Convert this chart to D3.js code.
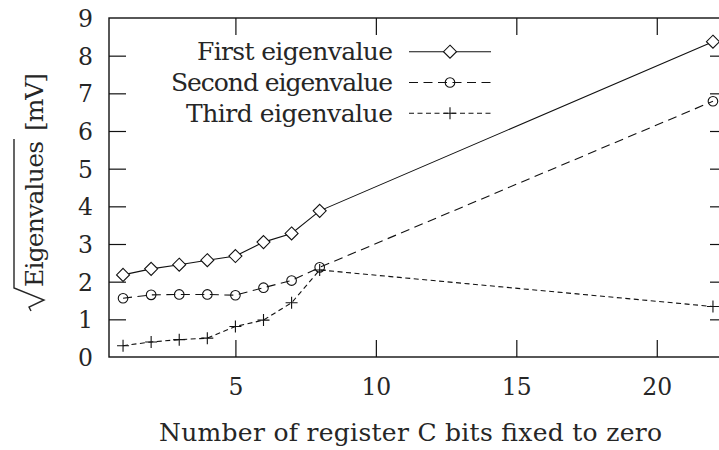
<!DOCTYPE html>
<html>
<head>
<meta charset="utf-8">
<script src="https://cdn.jsdelivr.net/npm/d3@7"></script>
<style>
  html, body { margin: 0; padding: 0; background: #fff; }
  svg { display: block; }
  text { font-family: "DejaVu Serif", "Liberation Serif", serif; fill: #262626; }
</style>
</head>
<body>
<svg id="chart" width="719" height="450"></svg>
<script>
// Number of register C bits fixed to zero
const bits = [1, 2, 3, 4, 5, 6, 7, 8, 22];
// Square roots of the three largest eigenvalues, in mV
const firstEig  = [2.18, 2.34, 2.45, 2.57, 2.68, 3.05, 3.28, 3.88, 8.37];
const secondEig = [1.56, 1.65, 1.66, 1.66, 1.64, 1.84, 2.03, 2.38, 6.79];
const thirdEig  = [0.30, 0.40, 0.46, 0.50, 0.81, 0.98, 1.44, 2.31, 1.34];
const seriesNames = ["First eigenvalue", "Second eigenvalue", "Third eigenvalue"];
const xTicks = [5, 10, 15, 20];
const yTicks = [0, 1, 2, 3, 4, 5, 6, 7, 8, 9];

const svg = d3.select("#chart");
const plotLeft = 109, plotRight = 727, plotTop = 18, plotBottom = 357;
const fs = 25;          // titles and legend
const tickFs = 23.5;    // tick labels
const fontFam = "'DejaVu Serif', 'Liberation Serif', serif";

const x = d3.scaleLinear().domain([0.5, 22.5]).range([plotLeft, plotRight]);
const y = d3.scaleLinear().domain([0, 9]).range([plotBottom, plotTop]);

const tickLen = 17;

// Frame
svg.append("rect")
  .attr("x", plotLeft).attr("y", plotTop)
  .attr("width", plotRight - plotLeft).attr("height", plotBottom - plotTop)
  .attr("fill", "none").attr("stroke", "#111").attr("stroke-width", 1.4);

// Axes with inward ticks on all four sides
function styleAxis(g) {
  g.select(".domain").remove();
  g.selectAll(".tick line").attr("stroke", "#111").attr("stroke-width", 1.2);
  g.selectAll(".tick text").style("font-size", tickFs + "px")
    .style("font-family", fontFam).attr("fill", "#262626");
}

svg.append("g").attr("transform", `translate(0,${plotBottom})`)
  .call(d3.axisBottom(x).tickValues(xTicks).tickSizeInner(-tickLen).tickSizeOuter(0).tickPadding(0))
  .call(styleAxis)
  .call(g => g.selectAll(".tick text").attr("y", 38).attr("dy", null));

svg.append("g").attr("transform", `translate(0,${plotTop})`)
  .call(d3.axisTop(x).tickValues(xTicks).tickSizeInner(-tickLen).tickSizeOuter(0).tickFormat(""))
  .call(styleAxis);

svg.append("g").attr("transform", `translate(${plotLeft},0)`)
  .call(d3.axisLeft(y).tickValues(yTicks).tickSizeInner(-tickLen).tickSizeOuter(0).tickPadding(0))
  .call(styleAxis)
  .call(g => g.selectAll(".tick text").attr("x", -16).attr("dy", "0.36em"))
  .call(g => g.selectAll(".tick").filter(d => d === 0 || d === 9).select("line").remove());

svg.append("g").attr("transform", `translate(${plotRight},0)`)
  .call(d3.axisRight(y).tickValues(yTicks).tickSizeInner(-tickLen).tickSizeOuter(0).tickFormat(""))
  .call(styleAxis)
  .call(g => g.selectAll(".tick").filter(d => d === 0 || d === 9).select("line").remove());

// Series
const series = [
  { name: seriesNames[0], values: firstEig,  dash: null,    marker: "diamond", width: 196 },
  { name: seriesNames[1], values: secondEig, dash: "9,5.5", marker: "circle",  width: 222 },
  { name: seriesNames[2], values: thirdEig,  dash: "5,3.5", marker: "plus",    width: 207 }
];

const line = d3.line().x(d => x(d[0])).y(d => y(d[1]));

function drawMarker(g, type, cx, cy) {
  if (type === "diamond") {
    const s = 6.5;
    g.append("path")
      .attr("d", `M${cx},${cy - s}L${cx + s},${cy}L${cx},${cy + s}L${cx - s},${cy}Z`)
      .attr("fill", "#fff").attr("stroke", "#111").attr("stroke-width", 1.1);
  } else if (type === "circle") {
    g.append("circle").attr("cx", cx).attr("cy", cy).attr("r", 4.8)
      .attr("fill", "none").attr("stroke", "#111").attr("stroke-width", 1.1);
  } else {
    const s = 6;
    g.append("path")
      .attr("d", `M${cx - s},${cy}L${cx + s},${cy}M${cx},${cy - s}L${cx},${cy + s}`)
      .attr("stroke", "#111").attr("stroke-width", 1.1);
  }
}

const plot = svg.append("g");
series.forEach(s => {
  const pts = bits.map((b, i) => [b, s.values[i]]);
  plot.append("path").datum(pts)
    .attr("d", line)
    .attr("fill", "none").attr("stroke", "#111").attr("stroke-width", 1.1)
    .attr("stroke-dasharray", s.dash);
  const mg = plot.append("g");
  pts.forEach(p => drawMarker(mg, s.marker, x(p[0]), y(p[1])));
});

// Legend
const legend = svg.append("g");
const legTextX = 393, legLineX0 = 409, legLineX1 = 491, legY0 = 51.7, legDy = 30.8;
series.forEach((s, i) => {
  const ly = legY0 + i * legDy;
  legend.append("text")
    .attr("x", legTextX).attr("y", ly + 8.5)
    .attr("text-anchor", "end")
    .attr("textLength", s.width).attr("lengthAdjust", "spacing")
    .style("font-size", fs + "px")
    .text(s.name);
  legend.append("line")
    .attr("x1", legLineX0).attr("x2", legLineX1).attr("y1", ly).attr("y2", ly)
    .attr("stroke", "#111").attr("stroke-width", 1.1)
    .attr("stroke-dasharray", s.dash);
  drawMarker(legend, s.marker, (legLineX0 + legLineX1) / 2, ly);
});

// X axis title
svg.append("text")
  .attr("x", 410.5).attr("y", 441)
  .attr("text-anchor", "middle")
  .attr("textLength", 503).attr("lengthAdjust", "spacing")
  .style("font-size", fs + "px")
  .text("Number of register C bits fixed to zero");

// Y axis title: radical sign over "Eigenvalues", then the unit
const yt = svg.append("g").attr("transform", "translate(43,312) rotate(-90)");
const radW = 25, barH = 29, wordW = 146;
yt.append("text").attr("x", radW).attr("y", 0)
  .attr("textLength", wordW).attr("lengthAdjust", "spacing")
  .style("font-size", fs + "px").text("Eigenvalues");
yt.append("path")
  .attr("d", `M1,-12L5,-14L12,1L${radW - 1},-${barH}L${radW + wordW + 2},-${barH}`)
  .attr("fill", "none").attr("stroke", "#262626").attr("stroke-width", 1.4)
  .attr("stroke-linejoin", "miter");
yt.append("text").attr("x", radW + wordW + 10).attr("y", 0)
  .attr("textLength", 58).attr("lengthAdjust", "spacing")
  .style("font-size", fs + "px").text("[mV]");
</script>
</body>
</html>
